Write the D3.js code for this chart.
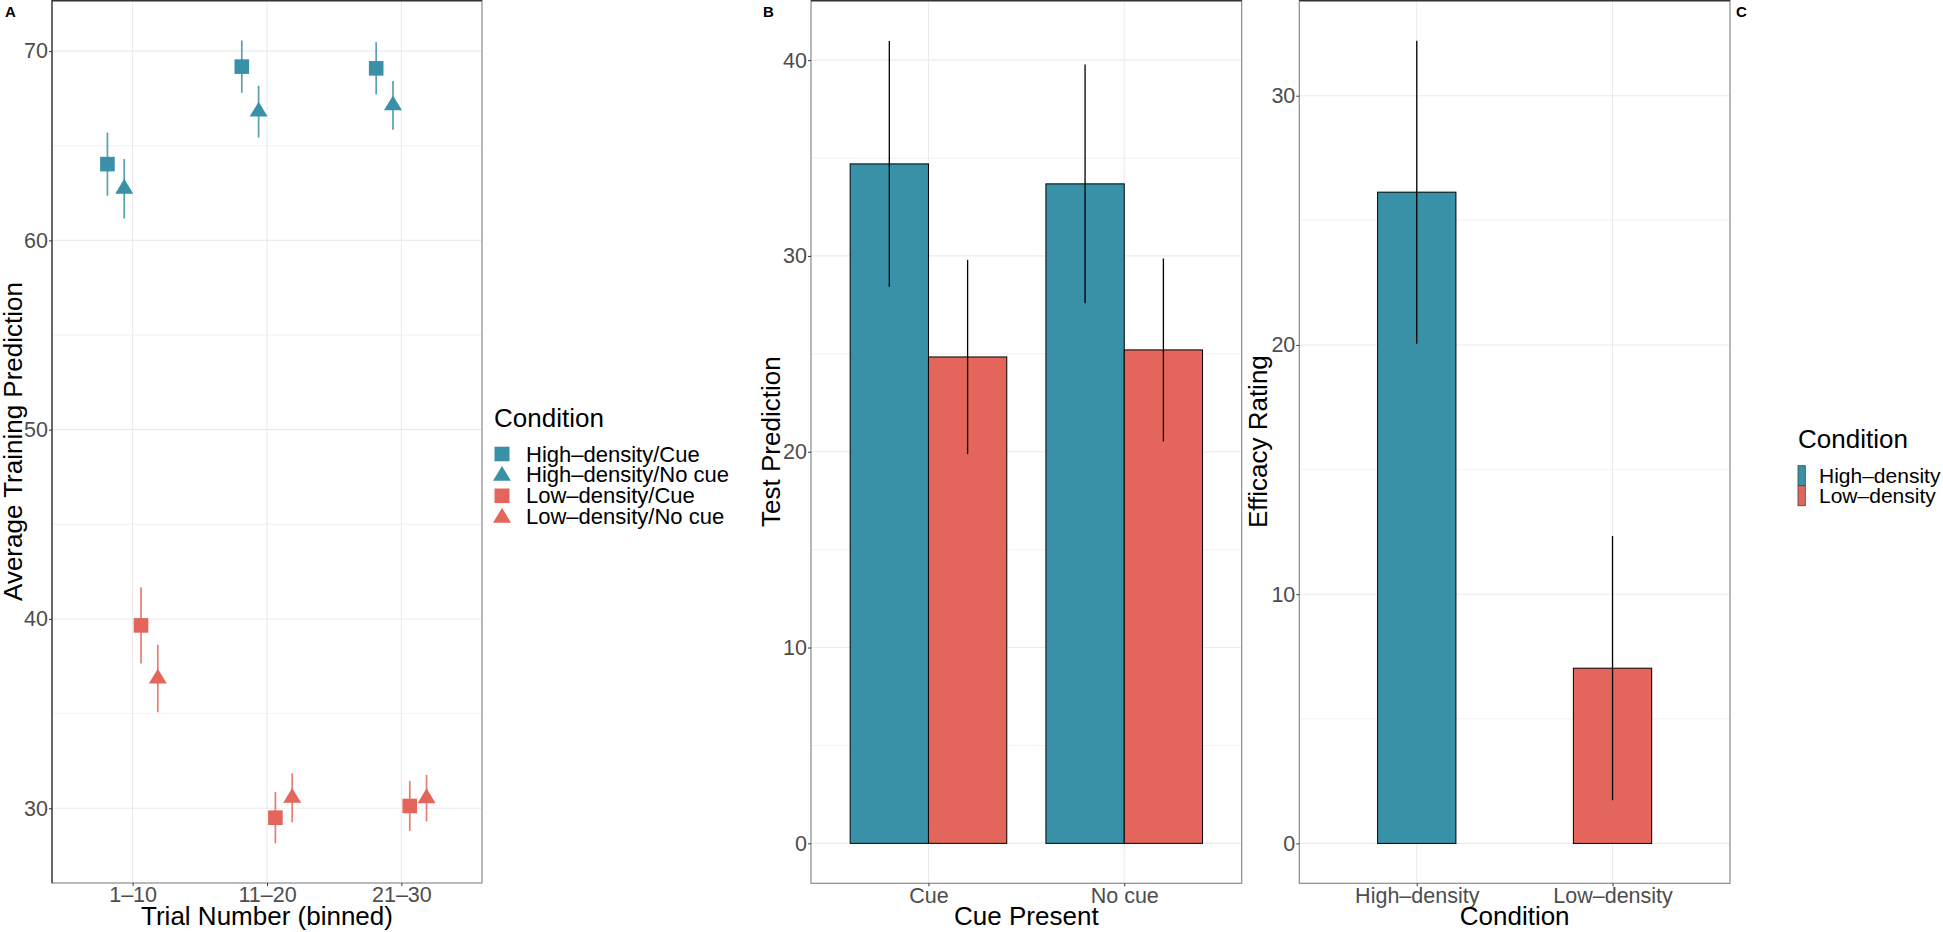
<!DOCTYPE html>
<html>
<head>
<meta charset="utf-8">
<script src="https://cdn.jsdelivr.net/npm/d3@7"></script>
<style>
  html, body { margin: 0; padding: 0; background: #fff; }
  svg { display: block; font-family: "Liberation Sans", Arial, Helvetica, sans-serif; }
</style>
</head>
<body>
<svg id="chart" width="1943" height="932"></svg>
<script>
// ---------------- DATA ----------------
const bins = ["1–10", "11–20", "21–30"];
const conditionsA = ["High–density/Cue", "High–density/No cue", "Low–density/Cue", "Low–density/No cue"];
const meanHighCue   = [64.03, 69.18, 69.09];
const meanHighNoCue = [62.73, 66.80, 67.13];
const meanLowCue    = [39.66, 29.50, 30.12];
const meanLowNoCue  = [36.85, 30.55, 30.53];
const seHighCue     = [1.67, 1.38, 1.38];
const seHighNoCue   = [1.57, 1.37, 1.29];
const seLowCue      = [2.02, 1.36, 1.32];
const seLowNoCue    = [1.78, 1.29, 1.23];
const ticksA = [30, 40, 50, 60, 70];

const cues = ["Cue", "No cue"];
const densities = ["High–density", "Low–density"];
const testHigh = [34.70, 33.68];
const testLow  = [24.84, 25.20];
const testHighErr = [6.28, 6.10];
const testLowErr  = [4.96, 4.67];
const ticksB = [0, 10, 20, 30, 40];

const efficacyMean = [26.13, 7.03];
const efficacyErr  = [6.08, 5.30];
const ticksC = [0, 10, 20, 30];

// ---------------- STYLE ----------------
const teal = "#3891A6", red = "#E3655B";
const colorOf = d => d.startsWith("High") ? teal : red;
const shapeOf = d => d.endsWith("/Cue") ? "square" : "triangle";
const gridMajor = "#ebebeb", gridMinor = "#f4f4f4";
const borderCol = "#8a8a8a", darkCol = "#333333";
const tickFont = 21.5, titleFont = 26;

const svg = d3.select("#chart");

function drawPanel(cfg) {
  const { left, right, top, bottom, y, xPositions, yTicks } = cfg;
  const g = svg.append("g");
  for (let i = 0; i < yTicks.length; i++) {
    const step = yTicks[1] - yTicks[0];
    [yTicks[i] - step / 2, yTicks[i] + step / 2].forEach(v => {
      const py = y(v);
      if (py > top && py < bottom && !yTicks.includes(v))
        g.append("line").attr("x1", left).attr("x2", right).attr("y1", py).attr("y2", py)
          .attr("stroke", gridMinor).attr("stroke-width", 1);
    });
  }
  yTicks.forEach(v => g.append("line").attr("x1", left).attr("x2", right)
    .attr("y1", y(v)).attr("y2", y(v)).attr("stroke", gridMajor).attr("stroke-width", 1.1));
  xPositions.forEach(px => g.append("line").attr("x1", px).attr("x2", px)
    .attr("y1", top).attr("y2", bottom).attr("stroke", gridMajor).attr("stroke-width", 1.1));
  return g;
}

function drawFrame(cfg, g) {
  const { left, right, top, bottom } = cfg;
  g.append("rect").attr("x", left).attr("y", top).attr("width", right - left).attr("height", bottom - top)
    .attr("fill", "none").attr("stroke", borderCol).attr("stroke-width", 1.2);
  g.append("line").attr("x1", left).attr("x2", right).attr("y1", top + 0.6).attr("y2", top + 0.6)
    .attr("stroke", darkCol).attr("stroke-width", 1.6);
}

function styleAxis(sel) {
  sel.select(".domain").remove();
  sel.selectAll(".tick line").attr("stroke", darkCol).attr("stroke-width", 1);
  sel.selectAll(".tick text").attr("fill", "#4d4d4d").style("font-size", tickFont + "px")
    .style("font-family", "'Liberation Sans', Arial, sans-serif");
}

function axes(cfg, g, xScale, xTitle, yTitle, yTitleX) {
  const { left, top, bottom, y, yTicks } = cfg;
  const ya = g.append("g").attr("transform", `translate(${left},0)`)
    .call(d3.axisLeft(y).tickValues(yTicks).tickSize(3).tickPadding(1).tickFormat(d3.format("d")));
  styleAxis(ya);
  const xa = g.append("g").attr("transform", `translate(0,${bottom})`)
    .call(d3.axisBottom(xScale).tickSize(3).tickPadding(1));
  styleAxis(xa);
  g.append("text").attr("x", (cfg.left + cfg.right) / 2).attr("y", 925)
    .attr("text-anchor", "middle").style("font-size", titleFont + "px").attr("fill", "#000").text(xTitle);
  g.append("text").attr("transform", `translate(${yTitleX},${(top + bottom) / 2}) rotate(-90)`)
    .attr("text-anchor", "middle").style("font-size", titleFont + "px").attr("fill", "#000").text(yTitle);
}

function trianglePath(cx, cy, w, h) {
  return `M${cx},${cy - h * 2 / 3}L${cx + w / 2},${cy + h / 3}L${cx - w / 2},${cy + h / 3}Z`;
}

// ---------------- PANEL A ----------------
const A = { left: 52, right: 482, top: 0, bottom: 883, yTicks: ticksA };
A.y = d3.scaleLinear().domain([26.05, 72.7]).range([A.bottom, A.top]);
const xA = d3.scalePoint().domain(bins).range([A.left, A.right]).padding(0.6);
A.xPositions = bins.map(b => xA(b));
const gA = drawPanel(A);
drawFrame(A, gA);
gA.append("line").attr("x1", A.left).attr("x2", A.left).attr("y1", A.top).attr("y2", A.bottom)
  .attr("stroke", darkCol).attr("stroke-width", 1.2);

const seriesA = [
  { name: conditionsA[0], mean: meanHighCue, se: seHighCue },
  { name: conditionsA[1], mean: meanHighNoCue, se: seHighNoCue },
  { name: conditionsA[2], mean: meanLowCue, se: seLowCue },
  { name: conditionsA[3], mean: meanLowNoCue, se: seLowNoCue }
];
const dodgeStep = 0.125 * xA.step();
seriesA.forEach((s, si) => {
  const col = colorOf(s.name);
  bins.forEach((b, bi) => {
    const cx = xA(b) + (si - 1.5) * dodgeStep;
    const cy = A.y(s.mean[bi]);
    gA.append("line").attr("x1", cx).attr("x2", cx)
      .attr("y1", A.y(s.mean[bi] + s.se[bi])).attr("y2", A.y(s.mean[bi] - s.se[bi]))
      .attr("stroke", col).attr("stroke-width", 1.7).attr("stroke-opacity", 0.85);
    if (shapeOf(s.name) === "square") {
      gA.append("rect").attr("x", cx - 7.3).attr("y", cy - 7.3).attr("width", 14.6).attr("height", 14.6)
        .attr("fill", col);
    } else {
      gA.append("path").attr("d", trianglePath(cx, cy, 18, 14.8)).attr("fill", col);
    }
  });
});
axes(A, gA, xA, "Trial Number (binned)", "Average Training Prediction", 21.5);
svg.append("text").attr("x", 5).attr("y", 17).style("font-size", "15px").style("font-weight", "bold").text("A");

// Legend A
const legA = svg.append("g");
legA.append("text").attr("x", 494).attr("y", 427).style("font-size", "26px").text("Condition");
conditionsA.forEach((c, i) => {
  const cy = 454 + i * 20.9;
  const col = colorOf(c);
  if (shapeOf(c) === "square")
    legA.append("rect").attr("x", 494.5).attr("y", cy - 7.3).attr("width", 15).attr("height", 14.6).attr("fill", col);
  else
    legA.append("path").attr("d", trianglePath(502, cy + 1, 18, 14.8)).attr("fill", col);
  legA.append("text").attr("x", 526).attr("y", cy + 7.5).style("font-size", "22px").text(c);
});

// ---------------- PANEL B ----------------
const B = { left: 811, right: 1241.7, top: 0, bottom: 883.3, yTicks: ticksB };
B.y = d3.scaleLinear().domain([-2.04, 43.07]).range([B.bottom, B.top]);
const xB = d3.scalePoint().domain(cues).range([B.left, B.right]).padding(0.6);
B.xPositions = cues.map(c => xB(c));
const gB = drawPanel(B);
drawFrame(B, gB);
const barWB = 0.4 * xB.step();
const seriesB = [
  { name: densities[0], mean: testHigh, err: testHighErr },
  { name: densities[1], mean: testLow, err: testLowErr }
];
seriesB.forEach((s, si) => {
  cues.forEach((c, ci) => {
    const x0 = xB(c) + (si - 1) * barWB;
    gB.append("rect").attr("x", x0).attr("width", barWB)
      .attr("y", B.y(s.mean[ci])).attr("height", B.y(0) - B.y(s.mean[ci]))
      .attr("fill", colorOf(s.name)).attr("stroke", "#000").attr("stroke-width", 1);
  });
});
seriesB.forEach((s, si) => {
  cues.forEach((c, ci) => {
    const cx = xB(c) + (si - 0.5) * barWB;
    gB.append("line").attr("x1", cx).attr("x2", cx)
      .attr("y1", B.y(s.mean[ci] + s.err[ci])).attr("y2", B.y(s.mean[ci] - s.err[ci]))
      .attr("stroke", "#000").attr("stroke-width", 1.3);
  });
});
axes(B, gB, xB, "Cue Present", "Test Prediction", 780);
svg.append("text").attr("x", 763).attr("y", 17).style("font-size", "15px").style("font-weight", "bold").text("B");

// ---------------- PANEL C ----------------
const C = { left: 1299.3, right: 1730, top: 0, bottom: 883.3, yTicks: ticksC };
C.y = d3.scaleLinear().domain([-1.6, 33.84]).range([C.bottom, C.top]);
const xC = d3.scalePoint().domain(densities).range([C.left, C.right]).padding(0.6);
C.xPositions = densities.map(d => xC(d));
const gC = drawPanel(C);
drawFrame(C, gC);
const barWC = 0.4 * xC.step();
densities.forEach((d, i) => {
  gC.append("rect").attr("x", xC(d) - barWC / 2).attr("width", barWC)
    .attr("y", C.y(efficacyMean[i])).attr("height", C.y(0) - C.y(efficacyMean[i]))
    .attr("fill", colorOf(d)).attr("stroke", "#000").attr("stroke-width", 1);
});
densities.forEach((d, i) => {
  gC.append("line").attr("x1", xC(d)).attr("x2", xC(d))
    .attr("y1", C.y(efficacyMean[i] + efficacyErr[i])).attr("y2", C.y(efficacyMean[i] - efficacyErr[i]))
    .attr("stroke", "#000").attr("stroke-width", 1.3);
});
axes(C, gC, xC, "Condition", "Efficacy Rating", 1267);
svg.append("text").attr("x", 1736).attr("y", 17).style("font-size", "15px").style("font-weight", "bold").text("C");

// Legend C
const legC = svg.append("g");
legC.append("text").attr("x", 1798).attr("y", 448).style("font-size", "26px").text("Condition");
densities.forEach((d, i) => {
  const y0 = 465.7 + i * 20;
  legC.append("rect").attr("x", 1798).attr("y", y0).attr("width", 7.3).attr("height", 20)
    .attr("fill", colorOf(d)).attr("stroke", "#444").attr("stroke-width", 0.8);
  legC.append("text").attr("x", 1819).attr("y", y0 + 17.6).style("font-size", "21px").text(d);
});
</script>
</body>
</html>
